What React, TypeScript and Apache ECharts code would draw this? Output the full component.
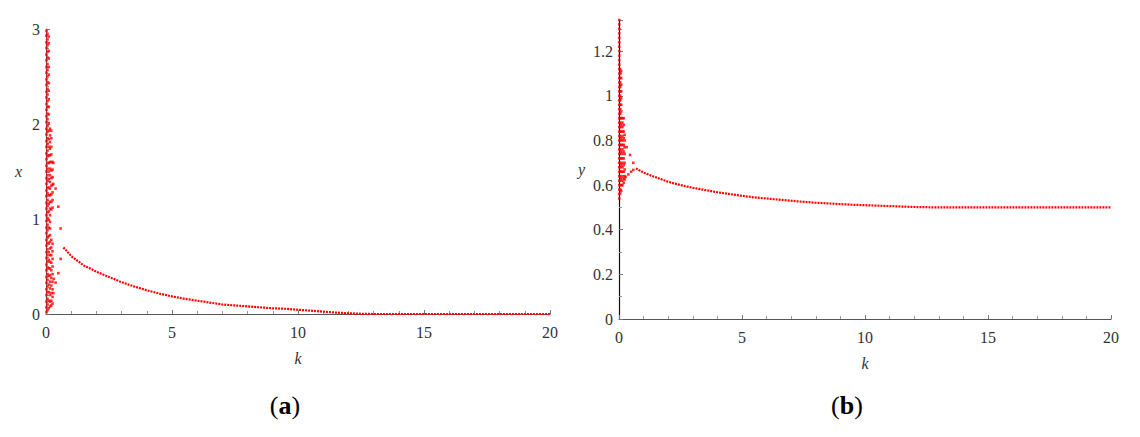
import React, { useEffect, useRef } from "react";
import * as echarts from "echarts";

// ---------- Data ----------
const xTickLabels = ["0", "5", "10", "15", "20"];

// Panel (a): x(k) — oscillating start; each column is one k with its scattered values
const aColK = [0.02, 0.06, 0.11, 0.16, 0.21, 0.26];
const aColVals: number[][] = [
  [2.98, 2.93, 2.86, 2.8, 2.73, 2.67, 2.6, 2.54, 2.47, 2.41, 2.34, 2.28, 2.21, 2.15, 2.08, 2.02, 1.95,
    1.89, 1.82, 1.76, 1.69, 1.63, 1.56, 1.5, 1.43, 1.37, 1.3, 1.24, 1.17, 1.11, 1.04, 0.98, 0.91, 0.85,
    0.78, 0.72, 0.65, 0.59, 0.52, 0.46, 0.39, 0.33, 0.26, 0.2, 0.13, 0.07, 0.02],
  [2.95, 2.89, 2.83, 2.76, 2.7, 2.63, 2.57, 2.5, 2.44, 2.37, 2.31, 2.24, 2.18, 2.11, 2.05, 1.98, 1.92,
    1.85, 1.79, 1.72, 1.66, 1.59, 1.53, 1.46, 1.4, 1.33, 1.27, 1.2, 1.14, 1.07, 1.01, 0.94, 0.88, 0.81,
    0.75, 0.68, 0.62, 0.55, 0.49, 0.42, 0.36, 0.29, 0.23, 0.16, 0.1, 0.04],
  [2.92, 2.85, 2.77, 2.69, 2.6, 2.52, 2.43, 2.35, 2.26, 2.18, 2.1, 2.01, 1.93, 1.84, 1.76, 1.67, 1.59,
    1.5, 1.42, 1.33, 1.25, 1.16, 1.08, 0.99, 0.91, 0.82, 0.74, 0.65, 0.57, 0.48, 0.4, 0.31, 0.23, 0.14,
    0.06],
  [1.95, 1.88, 1.81, 1.74, 1.67, 1.6, 1.53, 1.46, 1.39, 1.32, 1.25, 1.18, 1.11, 1.04, 0.97, 0.9, 0.83,
    0.76, 0.69, 0.62, 0.55, 0.48, 0.41, 0.34, 0.27, 0.2, 0.13, 0.08],
  [1.93, 1.85, 1.76, 1.68, 1.6, 1.51, 1.43, 1.35, 1.26, 1.18, 1.1, 0.78, 0.7, 0.62, 0.54, 0.46, 0.38,
    0.3, 0.22, 0.14, 0.09],
  [1.6, 1.52, 1.44, 1.36, 1.28, 1.2, 1.12, 0.74, 0.66, 0.58, 0.5, 0.42, 0.34, 0.26, 0.18, 0.11],
];
// Panel (a): isolated points between the oscillations and the smooth part [k, x]
const aLoose: number[][] = [
  [0.29, 1.59], [0.29, 1.37], [0.29, 0.22], [0.31, 0.37], [0.38, 1.32], [0.38, 0.33],
  [0.49, 1.13], [0.49, 0.43], [0.58, 0.9], [0.58, 0.58],
];

// Panel (a): smooth decay after the oscillations
const aK = [0.69, 0.8, 0.9, 1.0, 1.25, 1.5, 1.75, 2.0, 2.5, 3.0, 3.5, 4.0, 4.5, 5.0, 5.5, 6.0, 6.5, 7.0,
  7.5, 8.0, 8.5, 9.0, 9.5, 10.0, 10.5, 11.0, 11.5, 12.0, 12.5, 13.0, 14, 15, 16, 17, 18, 19, 20];
const aX = [0.7, 0.67, 0.64, 0.61, 0.56, 0.51, 0.48, 0.445, 0.39, 0.335, 0.29, 0.25, 0.215, 0.185,
  0.16, 0.14, 0.12, 0.1, 0.09, 0.08, 0.07, 0.06, 0.055, 0.045, 0.035, 0.025, 0.015, 0.008, 0.002,
  0, 0, 0, 0, 0, 0, 0, 0];

// Panel (b): y(k) — oscillating start, columns
const bColK = [0.01, 0.05, 0.09, 0.14, 0.19, 0.23];
const bColVals: number[][] = [
  [1.34, 1.32, 1.3, 1.28, 1.26, 1.24, 1.22, 1.2, 1.18, 1.16, 1.14, 1.12, 1.1, 1.08, 1.06, 1.04, 1.02,
    1.0, 0.98, 0.96, 0.94, 0.92, 0.9, 0.88, 0.86, 0.84, 0.82, 0.8, 0.78, 0.76, 0.74, 0.72, 0.7, 0.68,
    0.66, 0.64, 0.62, 0.6, 0.58, 0.56, 0.54],
  [1.12, 1.1, 1.08, 1.06, 1.04, 1.02, 1.0, 0.98, 0.96, 0.94, 0.92, 0.9, 0.88, 0.86, 0.84, 0.82, 0.8,
    0.78, 0.76, 0.74, 0.72, 0.7, 0.68, 0.66, 0.64, 0.62, 0.6, 0.58, 0.565],
  [1.11, 1.08, 1.05, 1.02, 0.99, 0.96, 0.93, 0.9, 0.87, 0.84, 0.81, 0.78, 0.75, 0.72, 0.69, 0.66,
    0.63, 0.6, 0.575],
  [0.9, 0.88, 0.86, 0.84, 0.82, 0.8, 0.78, 0.76, 0.74, 0.72, 0.7, 0.68, 0.66, 0.64, 0.62, 0.6],
  [0.9, 0.87, 0.84, 0.81, 0.78, 0.75, 0.72, 0.69, 0.66, 0.63, 0.61],
  [0.825, 0.8, 0.77, 0.74, 0.7, 0.67, 0.64, 0.625],
];
const bLoose: number[][] = [
  [0.31, 0.77], [0.45, 0.735], [0.58, 0.7],
  [0.27, 0.637], [0.38, 0.648], [0.49, 0.66], [0.58, 0.668],
];

// Panel (b): smooth decay after the oscillations
const bK = [0.69, 0.8, 0.9, 1.0, 1.25, 1.5, 1.75, 2.0, 2.5, 3.0, 3.5, 4.0, 4.5, 5.0, 5.5, 6.0, 6.5, 7.0,
  7.5, 8.0, 8.5, 9.0, 9.5, 10.0, 10.5, 11.0, 11.5, 12.0, 12.5, 13.0, 14, 15, 16, 17, 18, 19, 20];
const bY = [0.675, 0.668, 0.662, 0.656, 0.645, 0.635, 0.625, 0.615, 0.6, 0.588, 0.578, 0.568, 0.56,
  0.552, 0.545, 0.54, 0.535, 0.53, 0.525, 0.521, 0.518, 0.515, 0.512, 0.51, 0.508, 0.506, 0.504,
  0.502, 0.501, 0.5, 0.5, 0.5, 0.5, 0.5, 0.5, 0.5, 0.5];

const aYTicks = [0, 1, 2, 3];
const bYTicks = [0, 0.2, 0.4, 0.6, 0.8, 1, 1.2];

// ---------- Chart ----------
const RED = "#ff0000";
const FONT = "'Liberation Serif', 'DejaVu Serif', serif";

const columnsToPoints = (ks: number[], vals: number[][]) =>
  ks.flatMap((k, i) => vals[i].map((v) => [k, v]));

function xAxisCfg(gridIndex: number) {
  return {
    type: "value" as const,
    gridIndex,
    min: 0,
    max: 20,
    interval: 5,
    name: "k",
    nameLocation: "middle" as const,
    nameGap: 36,
    nameTextStyle: { fontFamily: FONT, fontStyle: "italic", fontSize: 16, color: "#333" },
    axisLine: { show: true, lineStyle: { color: "#555", width: 1.2 } },
    axisTick: { show: true, inside: true, length: 4, lineStyle: { color: "#777" } },
    minorTick: { show: true, splitNumber: 5, length: 3, lineStyle: { color: "#999" } },
    splitLine: { show: false },
    axisLabel: {
      fontFamily: FONT,
      fontSize: 16,
      color: "#333",
      margin: 10,
      formatter: (v: number) => (xTickLabels.includes(String(v)) ? String(v) : ""),
    },
  };
}

export default function App() {
  const ref = useRef<HTMLDivElement>(null);

  useEffect(() => {
    if (!ref.current) return;
    const chart = echarts.init(ref.current, undefined, { renderer: "svg" });

    const captionStyle = (letter: string) => ({
      text: "(" + "{b|" + letter + "})",
      align: "center",
      verticalAlign: "middle",
      font: "26px " + FONT,
      fill: "#000",
      rich: { b: { font: "bold 26px " + FONT, fill: "#000" } },
    });

    const option = {
      animation: false,
      backgroundColor: "#ffffff",
      textStyle: { fontFamily: FONT },
      grid: [
        { left: 46, top: 29, width: 504, height: 285, containLabel: false },
        { left: 619, top: 20, width: 492, height: 299, containLabel: false },
      ],
      xAxis: [xAxisCfg(0), xAxisCfg(1)],
      yAxis: [
        {
          type: "value",
          gridIndex: 0,
          min: 0,
          max: 3,
          interval: 1,
          name: "x",
          nameLocation: "middle",
          nameRotate: 0,
          nameGap: 24,
          nameTextStyle: { fontFamily: FONT, fontStyle: "italic", fontSize: 16, color: "#333" },
          axisLine: { show: true, lineStyle: { color: "#555", width: 1.2 } },
          axisTick: { show: true, inside: true, length: 4, lineStyle: { color: "#777" } },
          minorTick: { show: true, splitNumber: 5, length: 3, lineStyle: { color: "#999" } },
          splitLine: { show: false },
          axisLabel: {
            fontFamily: FONT,
            fontSize: 16,
            color: "#333",
            margin: 6,
            formatter: (v: number) => (aYTicks.includes(v) ? String(v) : ""),
          },
        },
        {
          type: "value",
          gridIndex: 1,
          min: 0,
          max: 1.34,
          interval: 0.2,
          name: "y",
          nameLocation: "middle",
          nameRotate: 0,
          nameGap: 34,
          nameTextStyle: { fontFamily: FONT, fontStyle: "italic", fontSize: 16, color: "#333" },
          axisLine: { show: true, lineStyle: { color: "#111", width: 1.2 } },
          axisTick: { show: true, inside: true, length: 4, lineStyle: { color: "#777" } },
          minorTick: { show: true, splitNumber: 2, length: 3, lineStyle: { color: "#999" } },
          splitLine: { show: false },
          axisLabel: {
            fontFamily: FONT,
            fontSize: 16,
            color: "#333",
            margin: 6,
            formatter: (v: number) => {
              const r = Math.round(v * 10) / 10;
              return bYTicks.includes(r) && Math.abs(r - v) < 1e-6 ? String(r) : "";
            },
          },
        },
      ],
      series: [
        {
          type: "scatter",
          xAxisIndex: 0,
          yAxisIndex: 0,
          data: columnsToPoints(aColK, aColVals).concat(aLoose),
          symbol: "rect",
          symbolSize: 2.6,
          itemStyle: { color: RED },
          clip: false,
        },
        {
          type: "line",
          xAxisIndex: 0,
          yAxisIndex: 0,
          data: aK.map((k, i) => [k, aX[i]]),
          showSymbol: false,
          symbol: "none",
          lineStyle: { color: RED, width: 2.2, type: [2, 1] },
          clip: false,
        },
        {
          type: "scatter",
          xAxisIndex: 1,
          yAxisIndex: 1,
          data: columnsToPoints(bColK, bColVals).concat(bLoose),
          symbol: "rect",
          symbolSize: 2.6,
          itemStyle: { color: RED },
          clip: false,
        },
        {
          type: "line",
          xAxisIndex: 1,
          yAxisIndex: 1,
          data: bK.map((k, i) => [k, bY[i]]),
          showSymbol: false,
          symbol: "none",
          lineStyle: { color: RED, width: 2.2, type: [2, 1] },
          clip: false,
        },
      ],
      graphic: [
        { type: "text", x: 285, y: 405, style: captionStyle("a") },
        { type: "text", x: 847, y: 405, style: captionStyle("b") },
      ],
    };

    chart.setOption(option as any);
    return () => chart.dispose();
  }, []);

  return (
    <div
      ref={ref}
      style={{ position: "fixed", left: 0, top: 0, width: 1140, height: 437, background: "#fff" }}
    />
  );
}
